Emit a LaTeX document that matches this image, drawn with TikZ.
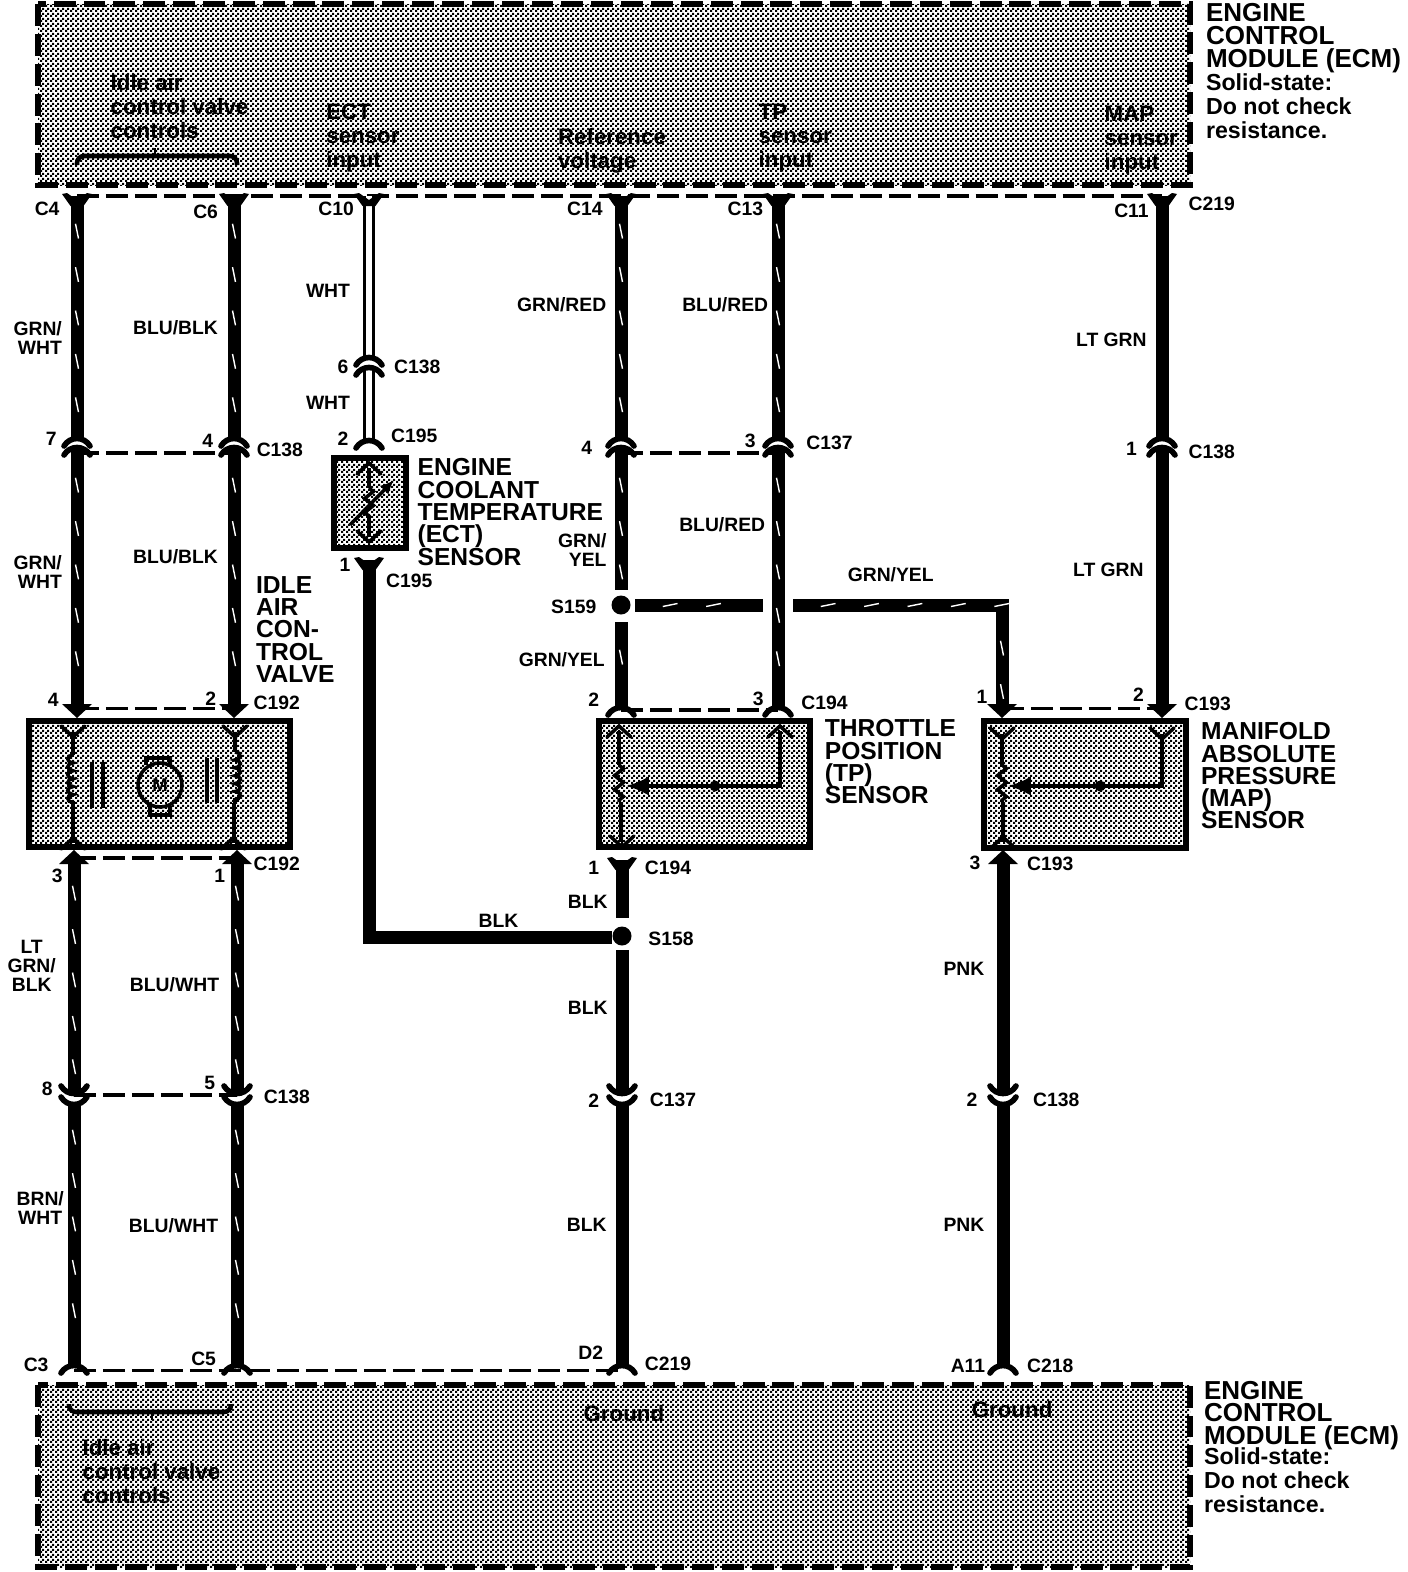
\documentclass[tikz,border=0pt]{standalone}
\usepackage{fontspec}
\setmainfont{Liberation Sans}
\usetikzlibrary{patterns,arrows.meta,decorations.markings,decorations.pathmorphing}
\pgfdeclarepatternformonly{ditherdots}{\pgfqpoint{0pt}{0pt}}{\pgfqpoint{2.9pt}{2.9pt}}{\pgfqpoint{2.9pt}{2.9pt}}{
	\pgfpathrectangle{\pgfqpoint{0pt}{0pt}}{\pgfqpoint{1.35pt}{1.35pt}}
	\pgfpathrectangle{\pgfqpoint{1.45pt}{1.45pt}}{\pgfqpoint{1.35pt}{1.35pt}}
	\pgfusepath{fill}
}
\tikzset{
	wire/.style={line width=7.4pt},
	stripedwire/.style={wire, postaction={decorate, decoration={markings,
		mark=between positions 20pt and -8pt step 24.7pt with {\draw[white, line width=0.8pt] (-4.2pt,-0.85pt) -- (4.2pt,0.85pt);}}}},
	whitewire/.style={line width=1.9pt, double=white, double distance=3.4pt},
	spliceline/.style={line width=1.8pt, dash pattern=on 12.5pt off 4pt},
	ecmbox/.style={pattern=ditherdots, line width=3.2pt, dash pattern=on 12.5pt off 4.5pt},
	sensorbox/.style={pattern=ditherdots, line width=3.2pt},
	innerline/.style={line width=2pt},
	smalltext/.style={font=\fontsize{11}{11}\selectfont\bfseries, inner sep=0pt},
	parttext/.style={font=\fontsize{14}{12.7}\selectfont\bfseries, inner sep=0pt, align=left, anchor=west, yshift=-0.3pt},
	ecmtext/.style={font=\fontsize{14.8}{12.9}\selectfont\bfseries, inner sep=0pt, align=left, anchor=west},
	ecmnote/.style={font=\fontsize{13.2}{13.7}\selectfont\bfseries, inner sep=0pt, align=left, anchor=west},
	notetext/.style={font=\fontsize{12.7}{13.7}\selectfont\bfseries, inner sep=0pt, align=left, anchor=west},
}
\def\capend[#1](#2){\draw[line width=3.2pt, line cap=round, shift={(#2)}, #1] (-13,5) .. controls (-7,-5) and (7,-5) .. (13,5);}
\def\forkend(#1){\fill[shift={(#1)}] (-15,-2) -- (-10,-3) -- (0,4) -- (10,-3) -- (15,-2) -- (6.5,10) -- (-6.5,10) -- cycle;}
\def\headend[#1](#2){\fill[shift={(#2)}, #1] (-15,-6) -- (15,-6) -- (0,8) -- cycle;}
\def\thinfork[#1](#2){\draw[innerline, line cap=round, shift={(#2)}, #1] (-12,-6) -- (0,5) -- (12,-6);}

\begin{document}
\begin{tikzpicture}[x=0.02cm, y=-0.02cm]
	%%%%% START %%%%%
	\useasboundingbox (0, 0) rectangle (1408, 1572);

	% ECM boxes
	\draw[ecmbox] (38, 4) rectangle (1190, 185);
	\draw[ecmbox] (38, 1385) rectangle (1190, 1567);

	% points along the wires
	\coordinate (ecmA) at (77, 196);
	\coordinate (ecmB) at (234, 196);
	\coordinate (ecmC) at (369, 196);
	\coordinate (ecmD) at (621, 196);
	\coordinate (ecmE) at (778, 196);
	\coordinate (ecmF) at (1162, 196);
	\coordinate (upA) at (77, 441);
	\coordinate (upB) at (234, 441);
	\coordinate (upD) at (621, 441);
	\coordinate (upE) at (778, 441);
	\coordinate (upF) at (1162, 441);
	\coordinate (midA) at (77, 450);
	\coordinate (midB) at (234, 450);
	\coordinate (midD) at (621, 450);
	\coordinate (midE) at (778, 450);
	\coordinate (midF) at (1162, 450);
	\coordinate (plugC) at (369, 360);
	\coordinate (socketC) at (369, 370);
	\coordinate (ectTop) at (369, 443);
	\coordinate (ectBot) at (369, 560);
	\coordinate (valveTopA) at (77, 710);
	\coordinate (valveTopB) at (234, 710);
	\coordinate (tpTopD) at (621, 710);
	\coordinate (tpTopE) at (778, 710);
	\coordinate (mapTopG) at (1002, 710);
	\coordinate (mapTopF) at (1162, 710);
	\coordinate (valveBotA) at (74, 858);
	\coordinate (valveBotB) at (237, 858);
	\coordinate (tpBot) at (622, 860);
	\coordinate (mapBot) at (1003, 858);
	\coordinate (lowA) at (74, 1091);
	\coordinate (lowB) at (237, 1091);
	\coordinate (lowD) at (622, 1091);
	\coordinate (lowG) at (1003, 1091);
	\coordinate (nextA) at (74, 1102);
	\coordinate (nextB) at (237, 1102);
	\coordinate (nextD) at (622, 1102);
	\coordinate (nextG) at (1003, 1102);
	\coordinate (gndA) at (74, 1368);
	\coordinate (gndB) at (237, 1368);
	\coordinate (gndD) at (622, 1368);
	\coordinate (gndG) at (1003, 1368);
	\coordinate (s159up) at (621, 590);
	\coordinate (s159down) at (621, 622);
	\coordinate (s159east) at (635, 605);
	\coordinate (s159cut) at (763, 605);
	\coordinate (s159on) at (793, 605);
	\coordinate (s159turn) at (1002, 605);
	\coordinate (s158up) at (622, 918);
	\coordinate (s158down) at (622, 950);
	\coordinate (s158west) at (369, 937);
	\coordinate (s158in) at (612, 937);

	% dashed splice lines
	\draw[spliceline] (ecmA) -- (ecmF);
	\draw[spliceline] ([yshift=-1.7pt]midA) -- ([yshift=-1.7pt]midB);
	\draw[spliceline] ([yshift=-1.7pt]midD) -- ([yshift=-1.7pt]midE);
	\draw[spliceline] ([yshift=1pt]valveTopA) -- ([yshift=1pt]valveTopB);
	\draw[spliceline] (tpTopD) -- (tpTopE);
	\draw[spliceline] ([yshift=1pt]mapTopG) -- ([yshift=1pt]mapTopF);
	\draw[spliceline] (valveBotA) -- (valveBotB);
	\draw[spliceline] ([yshift=-2.3pt]lowA) -- ([yshift=-2.3pt]lowB);
	\draw[spliceline] ([yshift=-1.2pt]gndA) -- ([yshift=-1.2pt]gndD);

	% wires
	\draw[stripedwire] (ecmA) -- (upA);
	\draw[stripedwire] (ecmB) -- (upB);
	\draw[whitewire] (ecmC) -- (plugC);
	\draw[whitewire] (socketC) -- (ectTop);
	\draw[stripedwire] (ecmD) -- (upD);
	\draw[stripedwire] (ecmE) -- (upE);
	\draw[wire] (ecmF) -- (upF);
	\draw[stripedwire] (midA) -- (valveTopA);
	\draw[stripedwire] (midB) -- (valveTopB);
	\draw[stripedwire] (midD) -- (s159up);
	\draw[stripedwire] (s159down) -- (tpTopD);
	\draw[stripedwire] (midE) -- (tpTopE);
	\draw[wire] (midF) -- (mapTopF);
	\draw[stripedwire] (s159east) -- (s159cut);
	\draw[stripedwire] (s159on) -- (s159turn) -- (mapTopG);
	\draw[wire] (ectBot) -- (s158west) -- (s158in);
	\draw[wire] (tpBot) -- (s158up);
	\draw[wire] (s158down) -- (lowD);
	\draw[wire] (nextD) -- (gndD);
	\draw[wire] (mapBot) -- (lowG);
	\draw[wire] (nextG) -- (gndG);
	\draw[stripedwire] (valveBotA) -- (lowA);
	\draw[stripedwire] (valveBotB) -- (lowB);
	\draw[stripedwire] (nextA) -- (gndA);
	\draw[stripedwire] (nextB) -- (gndB);

	% splices
	\fill (621, 605) circle (9.5);
	\fill (622, 936) circle (9.5);

	% connector ends
	\forkend(ecmA)
	\forkend(ecmB)
	\forkend(ecmC)
	\forkend(ecmD)
	\forkend(ecmE)
	\forkend(ecmF)
	\capend[](upA)
	\capend[](upB)
	\capend[](upD)
	\capend[](upE)
	\capend[](upF)
	\capend[](midA)
	\capend[](midB)
	\capend[](midD)
	\capend[](midE)
	\capend[](midF)
	\capend[](plugC)
	\capend[](socketC)
	\capend[](ectTop)
	\forkend(ectBot)
	\headend[](valveTopA)
	\headend[](valveTopB)
	\capend[](tpTopD)
	\capend[](tpTopE)
	\headend[](mapTopG)
	\headend[](mapTopF)
	\headend[yscale=-1](valveBotA)
	\headend[yscale=-1](valveBotB)
	\forkend(tpBot)
	\headend[yscale=-1](mapBot)
	\capend[yscale=-1](lowA)
	\capend[yscale=-1](lowB)
	\capend[yscale=-1](lowD)
	\capend[yscale=-1](lowG)
	\capend[yscale=-1](nextA)
	\capend[yscale=-1](nextB)
	\capend[yscale=-1](nextD)
	\capend[yscale=-1](nextG)
	\capend[](gndA)
	\capend[](gndB)
	\capend[](gndD)
	\capend[](gndG)

	% idle air control valve
	\draw[sensorbox] (29, 721) rectangle (290, 847);
	\thinfork[](73, 732)
	\thinfork[](235, 732)
	\thinfork[yscale=-1](73, 843)
	\thinfork[yscale=-1](233, 843)
	\draw[innerline] (73, 732) -- (73, 755);
	\draw[innerline, decorate, decoration={bumps, segment length=9pt, amplitude=3pt, mirror}] (73, 755) -- (73, 807);
	\draw[innerline] (73, 807) -- (73, 843);
	\draw[innerline] (235, 732) -- (235, 752);
	\draw[innerline, decorate, decoration={bumps, segment length=9pt, amplitude=3pt}] (235, 752) -- (235, 803);
	\draw[innerline] (234, 803) -- (234, 843);
	\draw[innerline] (92, 762) -- (92, 808);
	\draw[innerline] (103, 762) -- (103, 808);
	\draw[innerline] (207, 758) -- (207, 803);
	\draw[innerline] (217, 758) -- (217, 803);
	\draw[innerline] (160, 785) circle (22);
	\draw[innerline] (146, 765) -- (146, 758) -- (170, 758) -- (170, 765);
	\draw[innerline] (150, 806) -- (150, 815) -- (170, 815) -- (170, 806);
	\node[font=\fontsize{10.5}{11}\selectfont\bfseries, inner sep=0pt] (motorM) at (160, 785) {M};

	% ECT sensor
	\draw[sensorbox] (334, 458) rectangle (406, 548);
	\thinfork[yscale=-1](369, 468)
	\thinfork[](369, 537)
	\draw[innerline] (369, 468) -- (369, 488);
	\draw[innerline, decorate, decoration={zigzag, segment length=8pt, amplitude=2.5pt}] (369, 488) -- (369, 520);
	\draw[innerline] (369, 520) -- (369, 537);
	\draw[innerline, -{Latex[length=8pt, width=7pt]}] (350, 525) -- (394, 480);

	% TP sensor
	\draw[sensorbox] (599, 721) rectangle (810, 847);
	\thinfork[yscale=-1](619, 731)
	\thinfork[yscale=-1](780, 731)
	\thinfork[](622, 842)
	\draw[innerline] (619, 731) -- (619, 765);
	\draw[innerline, decorate, decoration={zigzag, segment length=8pt, amplitude=2.5pt}] (619, 765) -- (619, 802);
	\draw[innerline] (621, 802) -- (621, 842);
	\draw[innerline, -{Latex[length=13pt, width=11pt]}] (780, 731) -- (780, 786) -- (626, 786);
	\fill (715, 786) circle (5.5);

	% MAP sensor
	\draw[sensorbox] (984, 721) rectangle (1186, 848);
	\thinfork[](1002, 734)
	\thinfork[](1162, 734)
	\thinfork[yscale=-1](1003, 842)
	\draw[innerline] (1002, 734) -- (1002, 765);
	\draw[innerline, decorate, decoration={zigzag, segment length=8pt, amplitude=2.5pt}] (1002, 765) -- (1002, 802);
	\draw[innerline] (1003, 802) -- (1003, 842);
	\draw[innerline, -{Latex[length=13pt, width=11pt]}] (1162, 734) -- (1162, 786) -- (1008, 786);
	\fill (1100, 786) circle (5.5);

	% brackets
	\draw[line width=2.6pt, rounded corners=4] (77, 165) -- (77, 156) -- (237, 156) -- (237, 165);
	\draw[line width=1.6pt] (155, 156) -- (155, 148);
	\draw[line width=2.6pt, rounded corners=4] (69, 1404) -- (69, 1412) -- (231, 1412) -- (231, 1404);
	\draw[line width=1.6pt] (152, 1412) -- (152, 1420);

	% labels
	\begin{scope}[x=0.02006cm, y=-0.02006cm]
	\node[ecmtext] (ecmTop) at (1202, 38) {ENGINE\\CONTROL\\MODULE (ECM)};
	\node[ecmnote] (ecmTopNote) at (1202, 106) {Solid-state:\\Do not check\\resistance.};
	\node[ecmtext] (ecmBot) at (1200, 1411) {ENGINE\\CONTROL\\MODULE (ECM)};
	\node[ecmnote] (ecmBotNote) at (1200, 1476) {Solid-state:\\Do not check\\resistance.};
	\node[parttext] (ectName) at (416, 510) {ENGINE\\COOLANT\\TEMPERATURE\\(ECT)\\SENSOR};
	\node[parttext] (valveName) at (255, 627) {IDLE\\AIR\\CON-\\TROL\\VALVE};
	\node[parttext] (tpName) at (822, 759) {THROTTLE\\POSITION\\(TP)\\SENSOR};
	\node[parttext] (mapName) at (1197, 773) {MANIFOLD\\ABSOLUTE\\PRESSURE\\(MAP)\\SENSOR};

	% texts inside the ECM boxes
	\node[notetext] (iacTop) at (110, 106) {Idle air\\control valve\\controls};
	\node[notetext] (ectIn) at (325, 138) {ECT\\sensor\\input};
	\node[notetext] (refIn) at (556, 150) {Reference\\voltage};
	\node[notetext] (tpIn) at (756, 138) {TP\\sensor\\input};
	\node[notetext] (mapIn) at (1101, 140) {MAP\\sensor\\input};
	\node[notetext] (iacBot) at (82, 1467) {Idle air\\control valve\\controls};
	\node[notetext, anchor=center] (gndOne) at (622, 1409) {Ground};
	\node[notetext, anchor=center] (gndTwo) at (1009, 1405) {Ground};

	% pins and connectors
	\node[smalltext] (pinC4) at (47, 208) {C4};
	\node[smalltext] (pinC6) at (205, 211) {C6};
	\node[smalltext] (pinC10) at (335, 208) {C10};
	\node[smalltext] (pinC14) at (583, 208) {C14};
	\node[smalltext] (pinC13) at (743, 208) {C13};
	\node[smalltext] (pinC11) at (1128, 210) {C11};
	\node[smalltext] (connTopEcm) at (1208, 203) {C219};
	\node[smalltext] (pinSix) at (342, 366) {6};
	\node[smalltext] (connWht) at (416, 366) {C138};
	\node[smalltext] (pinEctTwo) at (342, 437) {2};
	\node[smalltext] (connEctTop) at (413, 435) {C195};
	\node[smalltext] (pinSeven) at (51, 438) {7};
	\node[smalltext] (pinFourB) at (207, 440) {4};
	\node[smalltext] (connUpB) at (279, 448) {C138};
	\node[smalltext] (pinFourD) at (585, 446) {4};
	\node[smalltext] (pinThreeE) at (748, 440) {3};
	\node[smalltext] (connUpE) at (827, 442) {C137};
	\node[smalltext] (pinOneF) at (1128, 447) {1};
	\node[smalltext] (connUpF) at (1208, 450) {C138};
	\node[smalltext] (pinEctOne) at (344, 563) {1};
	\node[smalltext] (connEctBot) at (408, 579) {C195};
	\node[smalltext] (spliceS159) at (572, 605) {S159};
	\node[smalltext] (spliceS158) at (669, 936) {S158};
	\node[smalltext] (pinFourA) at (53, 698) {4};
	\node[smalltext] (pinTwoB) at (210, 697) {2};
	\node[smalltext] (connValveTop) at (276, 701) {C192};
	\node[smalltext] (pinTwoD) at (592, 698) {2};
	\node[smalltext] (pinThreeTp) at (756, 697) {3};
	\node[smalltext] (connTpTop) at (822, 701) {C194};
	\node[smalltext] (pinOneG) at (979, 695) {1};
	\node[smalltext] (pinTwoF) at (1135, 693) {2};
	\node[smalltext] (connMapTop) at (1204, 702) {C193};
	\node[smalltext] (pinThreeA) at (57, 873) {3};
	\node[smalltext] (pinOneB) at (219, 873) {1};
	\node[smalltext] (connValveBot) at (276, 861) {C192};
	\node[smalltext] (pinOneTp) at (592, 865) {1};
	\node[smalltext] (connTpBot) at (666, 865) {C194};
	\node[smalltext] (pinThreeG) at (972, 860) {3};
	\node[smalltext] (connMapBot) at (1047, 861) {C193};
	\node[smalltext] (pinEight) at (47, 1086) {8};
	\node[smalltext] (pinFive) at (209, 1080) {5};
	\node[smalltext] (connLowB) at (286, 1094) {C138};
	\node[smalltext] (pinTwoLowD) at (592, 1097) {2};
	\node[smalltext] (connLowD) at (671, 1096) {C137};
	\node[smalltext] (pinTwoLowG) at (969, 1096) {2};
	\node[smalltext] (connLowG) at (1053, 1096) {C138};
	\node[smalltext] (pinC3) at (36, 1361) {C3};
	\node[smalltext] (pinC5) at (203, 1355) {C5};
	\node[smalltext] (pinD2) at (589, 1349) {D2};
	\node[smalltext] (connGndD) at (666, 1360) {C219};
	\node[smalltext] (pinA11) at (965, 1362) {A11};
	\node[smalltext] (connGndG) at (1047, 1362) {C218};

	% wire colours
	\node[smalltext, align=right, anchor=east] (colorA1) at (62, 337) {GRN/\\WHT};
	\node[smalltext] (colorB1) at (175, 327) {BLU/BLK};
	\node[smalltext] (colorC1) at (327, 290) {WHT};
	\node[smalltext] (colorC2) at (327, 402) {WHT};
	\node[smalltext] (colorD1) at (560, 304) {GRN/RED};
	\node[smalltext] (colorE1) at (723, 304) {BLU/RED};
	\node[smalltext] (colorF1) at (1108, 339) {LT GRN};
	\node[smalltext, align=right, anchor=east] (colorA2) at (62, 570) {GRN/\\WHT};
	\node[smalltext] (colorB2) at (175, 555) {BLU/BLK};
	\node[smalltext] (colorE2) at (720, 523) {BLU/RED};
	\node[smalltext, align=right, anchor=east] (colorD2) at (605, 548) {GRN/\\YEL};
	\node[smalltext] (colorF2) at (1105, 568) {LT GRN};
	\node[smalltext] (colorG1) at (888, 573) {GRN/YEL};
	\node[smalltext] (colorD3) at (560, 658) {GRN/YEL};
	\node[smalltext] (colorH1) at (586, 899) {BLK};
	\node[smalltext] (colorH2) at (497, 918) {BLK};
	\node[smalltext] (colorH3) at (586, 1005) {BLK};
	\node[smalltext] (colorH4) at (585, 1221) {BLK};
	\node[smalltext] (colorG2) at (961, 966) {PNK};
	\node[smalltext] (colorG3) at (961, 1221) {PNK};
	\node[smalltext, align=center, anchor=east] (colorA3) at (56, 963) {LT\\GRN/\\BLK};
	\node[smalltext] (colorB3) at (174, 982) {BLU/WHT};
	\node[smalltext, align=center, anchor=east] (colorA4) at (64, 1204) {BRN/\\WHT};
	\node[smalltext] (colorB4) at (173, 1222) {BLU/WHT};
	\end{scope}

	%%%%% END %%%%%
\end{tikzpicture}
\end{document}
